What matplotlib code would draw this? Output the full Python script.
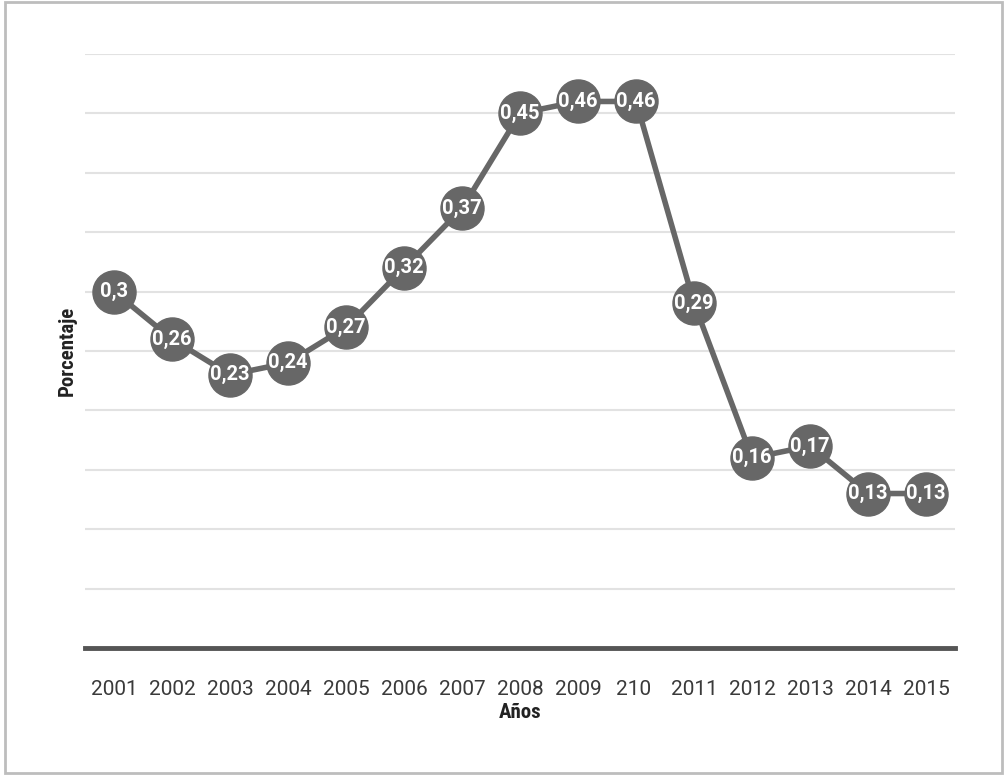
import matplotlib
matplotlib.use("Agg")
import matplotlib.pyplot as plt
from matplotlib.patches import Rectangle
from matplotlib import font_manager

# Datos
anios = ["2001", "2002", "2003", "2004", "2005", "2006", "2007", "2008",
         "2009", "210 ", "2011", "2012", "2013", "2014", "2015"]
porcentaje = [0.30, 0.26, 0.23, 0.24, 0.27, 0.32, 0.37, 0.45,
              0.46, 0.46, 0.29, 0.16, 0.17, 0.13, 0.13]
etiquetas = ["0,3", "0,26", "0,23", "0,24", "0,27", "0,32", "0,37", "0,45",
             "0,46", "0,46", "0,29", "0,16", "0,17", "0,13", "0,13"]

nombres = {f.name for f in font_manager.fontManager.ttflist}
condensada = "Roboto Condensed" if "Roboto Condensed" in nombres else "DejaVu Sans"
normal = "Roboto" if "Roboto" in nombres else "DejaVu Sans"
plt.rcParams["font.family"] = [condensada, "DejaVu Sans"]

fig = plt.figure(figsize=(10.06, 7.75), dpi=100)
ax = fig.add_axes([0.0845, 0.1639, 0.865, 0.7665])

gris = "#676767"
x = list(range(len(anios)))
ax.plot(x, porcentaje, color=gris, lw=4, zorder=3,
        marker="o", markersize=31, markerfacecolor=gris, markeredgecolor=gris)
for xi, yi, t in zip(x, porcentaje, etiquetas):
    ax.text(xi, yi, t, ha="center", va="center", color="white",
            family=[normal, "DejaVu Sans"], fontsize=14.5, fontweight="bold", zorder=4)

ax.set_xlim(-0.5, len(anios) - 0.5)
ax.set_ylim(0, 0.5)
ax.set_yticks([i * 0.05 for i in range(1, 11)])
ax.yaxis.grid(True, color="#e2e2e2", lw=1.5)
ax.set_axisbelow(True)
ax.tick_params(axis="y", left=False, labelleft=False)
ax.tick_params(axis="x", length=0, pad=23)
ax.set_xticks(x)
ax.set_xticklabels(anios, family=[normal, "DejaVu Sans"], fontsize=15,
                   color="#3a3a3a")
for s in ["top", "right", "left"]:
    ax.spines[s].set_visible(False)
ax.spines["bottom"].set_color("#555555")
ax.spines["bottom"].set_linewidth(3.5)

ax.set_xlabel("Años", fontsize=15, fontweight="bold", labelpad=3, color="#222222")
ax.set_ylabel("Porcentaje", fontsize=15, fontweight="bold", labelpad=6, color="#222222")

# Marco exterior
fig.patches.append(Rectangle((0.005, 0.003), 0.991, 0.994, transform=fig.transFigure,
                             fill=False, edgecolor="#bdbdbd", lw=2))

fig.savefig("out.png", dpi=100)
